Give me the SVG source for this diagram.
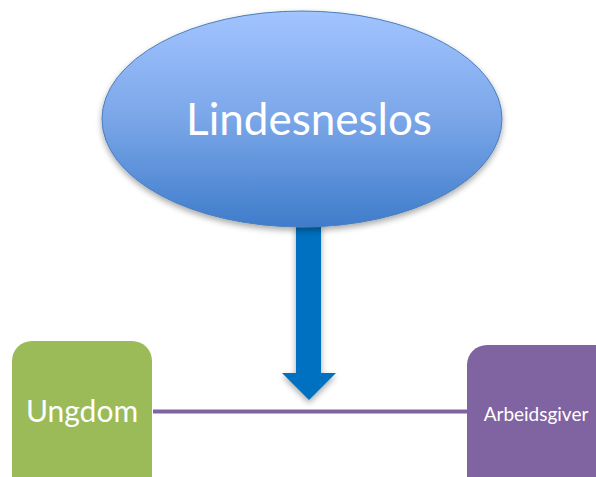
<svg xmlns="http://www.w3.org/2000/svg" width="596" height="477" viewBox="0 0 596 477">
<defs>
<linearGradient id="eg" x1="0" y1="0" x2="0" y2="1">
<stop offset="0" stop-color="#A2C4FF"/>
<stop offset="0.5" stop-color="#7AA6E8"/>
<stop offset="1" stop-color="#3F7CCB"/>
</linearGradient>
<filter id="sh" x="-20%" y="-20%" width="140%" height="140%">
<feGaussianBlur in="SourceAlpha" stdDeviation="3"/>
<feOffset dx="0" dy="3" result="b"/>
<feComponentTransfer><feFuncA type="linear" slope="0.35"/></feComponentTransfer>
<feMerge><feMergeNode/><feMergeNode in="SourceGraphic"/></feMerge>
</filter>
</defs>
<style>
.t{font-family:Lato,"Open Sans",sans-serif;fill:#fff;text-anchor:middle}
</style>
<g id="connectors">
<line x1="153" y1="411.5" x2="467" y2="411.5" stroke="#8064A2" stroke-width="4"/>
<polygon points="296,224 321,224 321,373 336,373 309,400 282,373 296,373" fill="#0070C0" filter="url(#sh)"/>
</g>
<g id="lindesneslos">
<ellipse cx="302" cy="119" rx="200" ry="108" fill="url(#eg)" stroke="#4A7EBB" stroke-width="1" filter="url(#sh)"/>
<text class="t" x="309" y="135" font-size="44">Lindesneslos</text>
</g>
<g id="ungdom">
<rect x="12" y="341" width="140" height="160" rx="20" fill="#9BBB59"/>
<text class="t" x="82" y="422" font-size="30">Ungdom</text>
</g>
<g id="arbeidsgiver">
<rect x="467" y="345" width="150" height="160" rx="20" fill="#8064A2"/>
<text class="t" x="536" y="421" font-size="19">Arbeidsgiver</text>
</g>
</svg>
